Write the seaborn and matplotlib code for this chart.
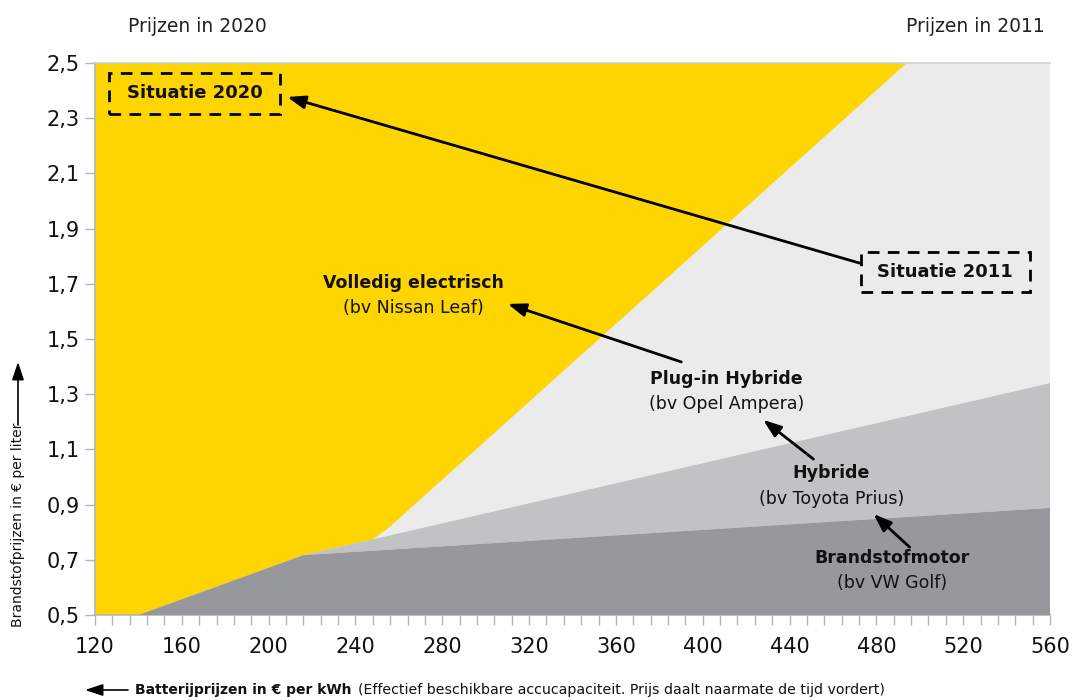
import matplotlib
matplotlib.use("Agg")
import matplotlib.pyplot as plt
from matplotlib.patches import Rectangle
import seaborn as sns
import numpy as np

# ---- data ----
x_ticks = [120, 160, 200, 240, 280, 320, 360, 400, 440, 480, 520, 560]
y_ticks = [0.5, 0.7, 0.9, 1.1, 1.3, 1.5, 1.7, 1.9, 2.1, 2.3, 2.5]
y_tick_labels = ["0,5", "0,7", "0,9", "1,1", "1,3", "1,5", "1,7", "1,9", "2,1", "2,3", "2,5"]

# boundary of the "Volledig electrisch" (yellow) region
ev_x = [140, 216, 248, 255, 494]
ev_y = [0.5, 0.717, 0.774, 0.814, 2.5]
# upper boundary of the "Hybride" region
hyb_x = [216, 248, 560]
hyb_y = [0.717, 0.774, 1.34]
# upper boundary of the "Brandstofmotor" region
fuel_x = [140, 216, 560]
fuel_y = [0.5, 0.717, 0.888]

YELLOW = "#FFD500"
LIGHT = "#EBEBEB"
MID = "#C1C2C4"
DARK = "#97989C"
AXCOL = "#B5B5B5"
TXT = "#111111"

sns.set_theme(style="white")
plt.rcParams["font.family"] = ["DejaVu Sans"]
plt.rcParams["text.color"] = TXT

fig, ax = plt.subplots(figsize=(10.73, 7), dpi=100)
fig.subplots_adjust(left=0.0885, right=0.9786, top=0.91, bottom=0.1214)

xmin, xmax = 120, 560
ymin, ymax = 0.5, 2.5
ax.set_xlim(xmin, xmax)
ax.set_ylim(ymin, ymax)
ax.set_facecolor(LIGHT)

# yellow region: left of EV boundary
ax.fill([xmin] + ev_x + [xmin], [ymin] + ev_y + [ymax], color=YELLOW, lw=0, zorder=1)
# hybrid region: between fuel top and hybrid top
ax.fill(hyb_x + [560, 216], hyb_y + [fuel_y[-1], fuel_y[1]], color=MID, lw=0, zorder=2)
# fuel region
ax.fill(fuel_x + [560], fuel_y + [ymin], color=DARK, lw=0, zorder=3)

# ticks
ax.set_xticks(x_ticks)
ax.set_xticks(np.arange(120, 561, 8), minor=True)
ax.set_yticks(y_ticks)
ax.set_yticklabels(y_tick_labels)
ax.tick_params(axis="x", which="both", direction="out", length=7, color=AXCOL,
               width=1, bottom=True, labelsize=15, pad=9, labelcolor=TXT)
ax.tick_params(axis="y", which="both", direction="out", length=7, color=AXCOL,
               width=1, left=True, labelsize=15, pad=4, labelcolor=TXT)
for s in ["left", "bottom"]:
    ax.spines[s].set_color(AXCOL)
    ax.spines[s].set_linewidth(1.2)
ax.spines["top"].set_color("#D0D0D0")
ax.spines["top"].set_linewidth(1.2)
ax.spines["right"].set_visible(False)
ax.grid(False)

# top texts
fig.text(197 / 1073, 1 - 27 / 700, "Prijzen in 2020", ha="center", va="center", fontsize=13.5, color="#222222")
fig.text(975 / 1073, 1 - 27 / 700, "Prijzen in 2011", ha="center", va="center", fontsize=13.5, color="#222222")

# dashed situation boxes
def sbox(x0, x1, y0, y1, label):
    ax.add_patch(Rectangle((x0, y0), x1 - x0, y1 - y0, fill=False, ec="black", lw=2,
                           ls=(0, (4.2, 3)), zorder=6, clip_on=False))
    ax.text((x0 + x1) / 2, (y0 + y1) / 2, label, ha="center", va="center", fontsize=13,
            fontweight="bold", zorder=6, color=TXT)

sbox(126.5, 205.4, 2.315, 2.464, "Situatie 2020")
sbox(472.7, 550.7, 1.670, 1.815, "Situatie 2011")

arrowprops = dict(arrowstyle="-|>,head_length=0.9,head_width=0.33", color="black", lw=2,
                  shrinkA=0, shrinkB=0)
ax.annotate("", xy=(208.6, 2.377), xytext=(472.3, 1.775), arrowprops=arrowprops, zorder=6)

# category labels
def cat(x, y, title, sub):
    ax.text(x, y, title, ha="center", va="center", fontsize=12.5, fontweight="bold", zorder=6, color=TXT)
    ax.text(x, y - 0.092, sub, ha="center", va="center", fontsize=12.5, zorder=6, color=TXT)

cat(266.8, 1.703, "Volledig electrisch", "(bv Nissan Leaf)")
cat(410.9, 1.355, "Plug-in Hybride", "(bv Opel Ampera)")
cat(459.3, 1.014, "Hybride", "(bv Toyota Prius)")
cat(487.0, 0.707, "Brandstofmotor", "(bv VW Golf)")

ax.annotate("", xy=(310.2, 1.627), xytext=(390.1, 1.417), arrowprops=arrowprops, zorder=6)
ax.annotate("", xy=(427.9, 1.207), xytext=(451.0, 1.065), arrowprops=arrowprops, zorder=6)
ax.annotate("", xy=(478.7, 0.866), xytext=(495.3, 0.746), arrowprops=arrowprops, zorder=6)

# axis labels with arrows (figure coordinates)
W, H = 1073, 700
fa = dict(arrowstyle="-|>,head_length=0.9,head_width=0.3", color="black", lw=1.2,
          shrinkA=0, shrinkB=0)
ax.annotate("", xy=(85 / W, 1 - 690 / H), xytext=(128 / W, 1 - 690 / H),
            xycoords="figure fraction", textcoords="figure fraction", arrowprops=fa)
t1 = fig.text(135 / W, 1 - 690 / H, "Batterijprijzen in € per kWh", ha="left", va="center",
              fontsize=10, fontweight="bold", color=TXT)
fig.canvas.draw()
bb = t1.get_window_extent()
fig.text(bb.x1 / W + 7 / W, 1 - 690 / H,
         "(Effectief beschikbare accucapaciteit. Prijs daalt naarmate de tijd vordert)",
         ha="left", va="center", fontsize=10.2, color=TXT)

fig.text(18 / W, 1 - 525 / H, "Brandstofprijzen in € per liter", rotation=90, ha="center",
         va="center", fontsize=10, color=TXT)
ax.annotate("", xy=(18 / W, 1 - 362 / H), xytext=(18 / W, 1 - 425 / H),
            xycoords="figure fraction", textcoords="figure fraction", arrowprops=fa)

fig.savefig("out.png", dpi=100)
